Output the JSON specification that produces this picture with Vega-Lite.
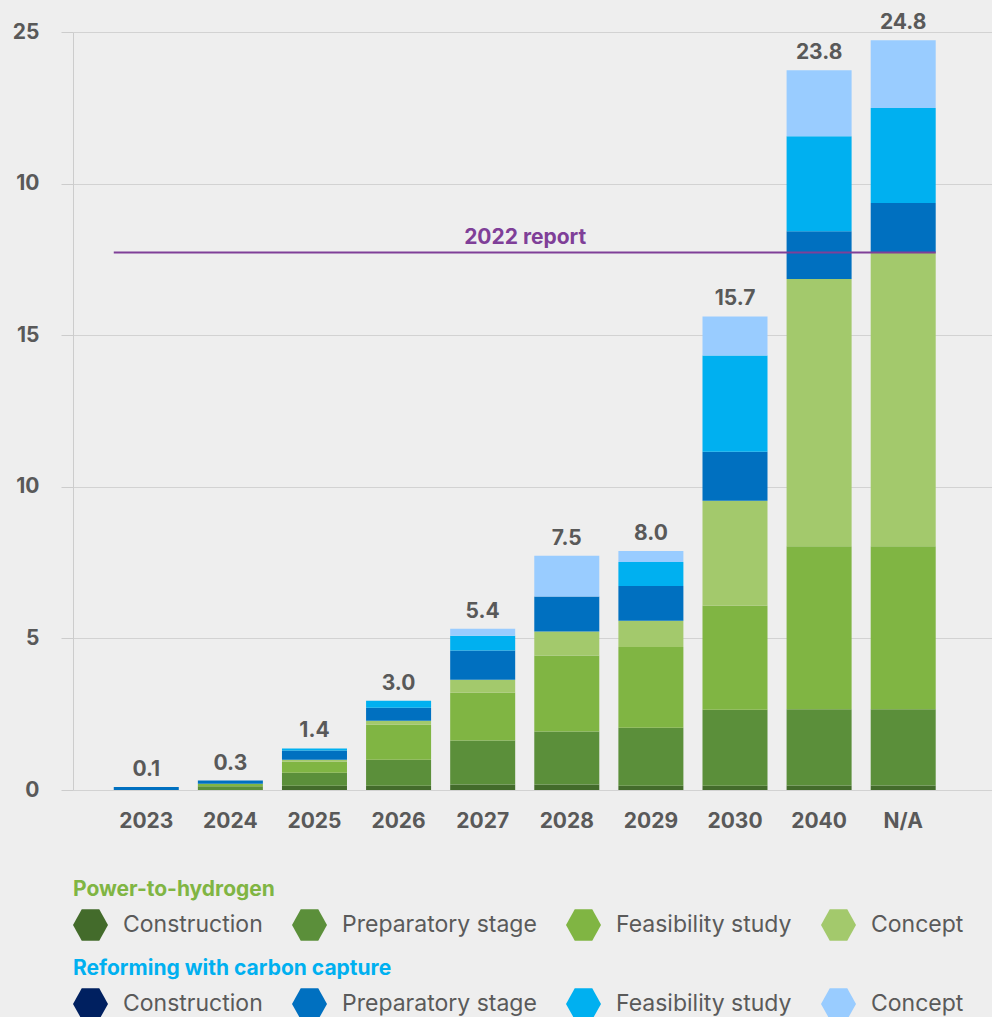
{
  "$schema": "https://vega.github.io/schema/vega-lite/v6.json",
  "autosize": "none",
  "width": 919,
  "height": 758,
  "padding": {"left": 73, "top": 32, "right": 0, "bottom": 227},
  "background": "#eeeeee",
  "config": {
    "view": {"stroke": null},
    "font": "Inter",
    "axis": {"labelFont": "Inter", "labelFontSize": 21, "labelFontWeight": "bold", "labelColor": "#595959", "title": null},
    "legend": {
      "orient": "bottom",
      "direction": "horizontal",
      "layout": {"bottom": {"anchor": "start", "direction": "vertical", "margin": 17}},
      "symbolType": "M-1,0L-0.5,-0.9L0.5,-0.9L1,0L0.5,0.9L-0.5,0.9Z",
      "symbolSize": 1225,
      "symbolStrokeWidth": 0,
      "symbolOpacity": 1,
      "labelFont": "Inter",
      "labelFontSize": 23,
      "labelColor": "#5a5a5a",
      "titleFont": "Inter",
      "titleFontSize": 21,
      "titleFontWeight": "bold",
      "labelOffset": 15,
      "columnPadding": 29,
      "titlePadding": 7,
      "padding": 0,
      "offset": 48,
      "labelLimit": 400,
      "titleLimit": 700
    }
  },
  "datasets": {
    "totals": [
      {"year": "2023", "label": "0.1"},
      {"year": "2024", "label": "0.3"},
      {"year": "2025", "label": "1.4"},
      {"year": "2026", "label": "3.0"},
      {"year": "2027", "label": "5.4"},
      {"year": "2028", "label": "7.5"},
      {"year": "2029", "label": "8.0"},
      {"year": "2030", "label": "15.7"},
      {"year": "2040", "label": "23.8"},
      {"year": "N/A", "label": "24.8"}
    ]
  },
  "data": {"values": [
    {"year": "2023", "tech": "Reforming with carbon capture", "stage": "Construction", "value": 0},
    {"year": "2023", "tech": "Reforming with carbon capture", "stage": "Preparatory stage", "value": 0.1},
    {"year": "2024", "tech": "Power-to-hydrogen", "stage": "Preparatory stage", "value": 0.12},
    {"year": "2024", "tech": "Power-to-hydrogen", "stage": "Feasibility study", "value": 0.09},
    {"year": "2024", "tech": "Reforming with carbon capture", "stage": "Preparatory stage", "value": 0.1},
    {"year": "2025", "tech": "Power-to-hydrogen", "stage": "Construction", "value": 0.14},
    {"year": "2025", "tech": "Power-to-hydrogen", "stage": "Preparatory stage", "value": 0.43},
    {"year": "2025", "tech": "Power-to-hydrogen", "stage": "Feasibility study", "value": 0.36},
    {"year": "2025", "tech": "Power-to-hydrogen", "stage": "Concept", "value": 0.07},
    {"year": "2025", "tech": "Reforming with carbon capture", "stage": "Preparatory stage", "value": 0.3},
    {"year": "2025", "tech": "Reforming with carbon capture", "stage": "Feasibility study", "value": 0.07},
    {"year": "2026", "tech": "Power-to-hydrogen", "stage": "Construction", "value": 0.14},
    {"year": "2026", "tech": "Power-to-hydrogen", "stage": "Preparatory stage", "value": 0.86},
    {"year": "2026", "tech": "Power-to-hydrogen", "stage": "Feasibility study", "value": 1.15},
    {"year": "2026", "tech": "Power-to-hydrogen", "stage": "Concept", "value": 0.13},
    {"year": "2026", "tech": "Reforming with carbon capture", "stage": "Preparatory stage", "value": 0.43},
    {"year": "2026", "tech": "Reforming with carbon capture", "stage": "Feasibility study", "value": 0.23},
    {"year": "2027", "tech": "Power-to-hydrogen", "stage": "Construction", "value": 0.18},
    {"year": "2027", "tech": "Power-to-hydrogen", "stage": "Preparatory stage", "value": 1.45},
    {"year": "2027", "tech": "Power-to-hydrogen", "stage": "Feasibility study", "value": 1.58},
    {"year": "2027", "tech": "Power-to-hydrogen", "stage": "Concept", "value": 0.43},
    {"year": "2027", "tech": "Reforming with carbon capture", "stage": "Preparatory stage", "value": 0.96},
    {"year": "2027", "tech": "Reforming with carbon capture", "stage": "Feasibility study", "value": 0.49},
    {"year": "2027", "tech": "Reforming with carbon capture", "stage": "Concept", "value": 0.23},
    {"year": "2028", "tech": "Power-to-hydrogen", "stage": "Construction", "value": 0.18},
    {"year": "2028", "tech": "Power-to-hydrogen", "stage": "Preparatory stage", "value": 1.75},
    {"year": "2028", "tech": "Power-to-hydrogen", "stage": "Feasibility study", "value": 2.51},
    {"year": "2028", "tech": "Power-to-hydrogen", "stage": "Concept", "value": 0.79},
    {"year": "2028", "tech": "Reforming with carbon capture", "stage": "Preparatory stage", "value": 1.15},
    {"year": "2028", "tech": "Reforming with carbon capture", "stage": "Concept", "value": 1.35},
    {"year": "2029", "tech": "Power-to-hydrogen", "stage": "Construction", "value": 0.14},
    {"year": "2029", "tech": "Power-to-hydrogen", "stage": "Preparatory stage", "value": 1.91},
    {"year": "2029", "tech": "Power-to-hydrogen", "stage": "Feasibility study", "value": 2.67},
    {"year": "2029", "tech": "Power-to-hydrogen", "stage": "Concept", "value": 0.86},
    {"year": "2029", "tech": "Reforming with carbon capture", "stage": "Preparatory stage", "value": 1.15},
    {"year": "2029", "tech": "Reforming with carbon capture", "stage": "Feasibility study", "value": 0.79},
    {"year": "2029", "tech": "Reforming with carbon capture", "stage": "Concept", "value": 0.36},
    {"year": "2030", "tech": "Power-to-hydrogen", "stage": "Construction", "value": 0.14},
    {"year": "2030", "tech": "Power-to-hydrogen", "stage": "Preparatory stage", "value": 2.51},
    {"year": "2030", "tech": "Power-to-hydrogen", "stage": "Feasibility study", "value": 3.43},
    {"year": "2030", "tech": "Power-to-hydrogen", "stage": "Concept", "value": 3.46},
    {"year": "2030", "tech": "Reforming with carbon capture", "stage": "Preparatory stage", "value": 1.62},
    {"year": "2030", "tech": "Reforming with carbon capture", "stage": "Feasibility study", "value": 3.17},
    {"year": "2030", "tech": "Reforming with carbon capture", "stage": "Concept", "value": 1.29},
    {"year": "2040", "tech": "Power-to-hydrogen", "stage": "Construction", "value": 0.15},
    {"year": "2040", "tech": "Power-to-hydrogen", "stage": "Preparatory stage", "value": 2.51},
    {"year": "2040", "tech": "Power-to-hydrogen", "stage": "Feasibility study", "value": 5.38},
    {"year": "2040", "tech": "Power-to-hydrogen", "stage": "Concept", "value": 8.81},
    {"year": "2040", "tech": "Reforming with carbon capture", "stage": "Preparatory stage", "value": 1.58},
    {"year": "2040", "tech": "Reforming with carbon capture", "stage": "Feasibility study", "value": 3.13},
    {"year": "2040", "tech": "Reforming with carbon capture", "stage": "Concept", "value": 2.18},
    {"year": "N/A", "tech": "Power-to-hydrogen", "stage": "Construction", "value": 0.15},
    {"year": "N/A", "tech": "Power-to-hydrogen", "stage": "Preparatory stage", "value": 2.51},
    {"year": "N/A", "tech": "Power-to-hydrogen", "stage": "Feasibility study", "value": 5.38},
    {"year": "N/A", "tech": "Power-to-hydrogen", "stage": "Concept", "value": 9.69},
    {"year": "N/A", "tech": "Reforming with carbon capture", "stage": "Preparatory stage", "value": 1.63},
    {"year": "N/A", "tech": "Reforming with carbon capture", "stage": "Feasibility study", "value": 3.13},
    {"year": "N/A", "tech": "Reforming with carbon capture", "stage": "Concept", "value": 2.24}
  ]},
  "transform": [
    {"calculate": "(datum.tech == 'Power-to-hydrogen' ? 0 : 10) + indexof(['Construction','Preparatory stage','Feasibility study','Concept'], datum.stage)", "as": "ord"},
    {"stack": "value", "groupby": ["year"], "sort": [{"field": "ord", "order": "ascending"}], "as": ["y0", "y1"]}
  ],
  "layer": [
    {
      "transform": [{"filter": "datum.tech == 'Power-to-hydrogen'"}],
      "mark": {"type": "bar"},
      "encoding": {
        "x": {
          "field": "year", "type": "nominal",
          "scale": {"domain": ["2023","2024","2025","2026","2027","2028","2029","2030","2040","N/A"], "paddingInner": 0.227, "paddingOuter": 0.577, "align": 0.42},
          "axis": {"ticks": false, "domain": false, "labelPadding": 20, "labelAngle": 0, "grid": false}
        },
        "y": {
          "field": "y1", "type": "quantitative",
          "scale": {"domain": [0, 25], "nice": false},
          "axis": {"values": [0,5,10,15,20,25], "labelExpr": "datum.value == 20 ? '10' : datum.label", "grid": true, "gridColor": "#d2d2d2", "domain": true, "domainColor": "#cccccc", "ticks": true, "tickColor": "#cccccc", "tickSize": 12, "labelPadding": 22}
        },
        "y2": {"field": "y0"},
        "color": {
          "field": "stage", "type": "nominal",
          "scale": {"domain": ["Construction","Preparatory stage","Feasibility study","Concept"], "range": ["#436b2b","#5b8f3a","#80b543","#a3c96c"]},
          "legend": {"title": "Power-to-hydrogen", "titleColor": "#80b543"}
        }
      }
    },
    {
      "transform": [{"filter": "datum.tech == 'Reforming with carbon capture'"}],
      "mark": {"type": "bar"},
      "encoding": {
        "x": {"field": "year", "type": "nominal"},
        "y": {"field": "y1", "type": "quantitative"},
        "y2": {"field": "y0"},
        "fill": {
          "field": "stage", "type": "nominal",
          "sort": ["Construction","Preparatory stage","Feasibility study","Concept"],
          "scale": {"range": ["#002060","#0070c0","#00b0f0","#99ccff"]},
          "legend": {"title": "Reforming with carbon capture", "titleColor": "#00b0f0"}
        }
      }
    },
    {
      "transform": [
        {"aggregate": [{"op": "max", "field": "y1", "as": "top"}], "groupby": ["year"]},
        {"lookup": "year", "from": {"data": {"name": "totals"}, "key": "year", "fields": ["label"]}}
      ],
      "mark": {"type": "text", "font": "Inter", "fontSize": 21, "fontWeight": "bold", "color": "#595959", "baseline": "alphabetic", "dy": -11},
      "encoding": {
        "x": {"field": "year", "type": "nominal"},
        "y": {"field": "top", "type": "quantitative"},
        "text": {"field": "label"}
      }
    },
    {
      "data": {"values": [{"start": "2023", "end": "N/A", "level": 17.73, "name": "2022 report"}]},
      "mark": {"type": "rule", "color": "#7f3f98", "strokeWidth": 2},
      "encoding": {
        "x": {"field": "start", "type": "nominal", "bandPosition": 0},
        "x2": {"field": "end", "bandPosition": 1},
        "y": {"field": "level", "type": "quantitative"}
      }
    },
    {
      "data": {"values": [{"start": "2023", "end": "N/A", "level": 17.73, "name": "2022 report"}]},
      "mark": {"type": "text", "font": "Inter", "fontSize": 21, "fontWeight": "bold", "color": "#7f3f98", "baseline": "alphabetic", "dy": -8, "dx": 10},
      "encoding": {
        "x": {"datum": "2027", "type": "nominal", "bandPosition": 1},
        "y": {"field": "level", "type": "quantitative"},
        "text": {"field": "name"}
      }
    }
  ]
}
